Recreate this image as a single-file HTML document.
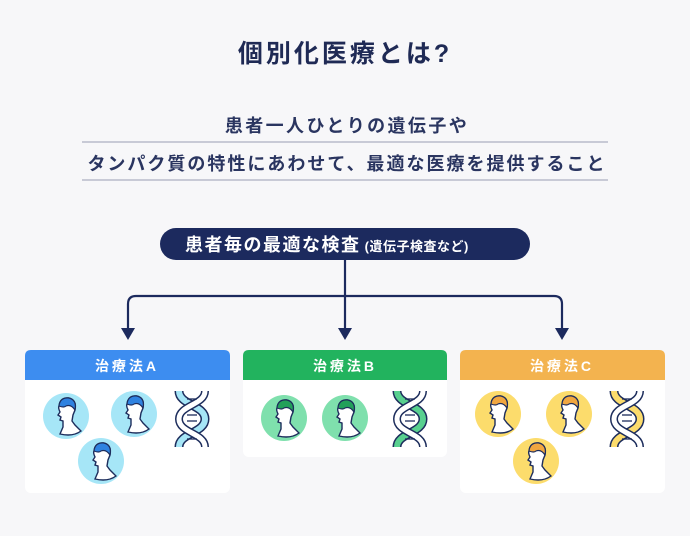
<!DOCTYPE html>
<html><head><meta charset="utf-8"><style>
body{margin:0;width:690px;height:536px;background:#f7f7f9;overflow:hidden;font-family:"Liberation Sans","Noto Sans CJK JP",sans-serif;}
svg{position:absolute;left:0;top:0}
</style></head><body>
<svg width="690" height="536" viewBox="0 0 690 536" xmlns="http://www.w3.org/2000/svg" font-family="Liberation Sans, Noto Sans CJK JP, sans-serif">
<defs>
<g id="p">
 <path d="M-8,-10 q1,-9 10,-8 q8,2 6,12 l-2,5 l-1,6 l3,4 l6,6 q-8,6 -21,3 l3,-7 l0,-6 l-3,-1 l1,-3 l-3,-2 l2,-3 q-2,-4 -1,-6z" fill="#fff" stroke="#1d2d5c" stroke-width="1.4"/>
 <path d="M-8,-10 q1,-9 10,-8 q8,2 6,12 q-4,-6 -9,-4 q-2,2 -7,0z" fill="var(--h)" stroke="#1d2d5c" stroke-width="1.2"/>
</g>
<g id="dna">
 <path d="M4,0 C4,14 30,14 30,28 C30,42 4,42 4,56" fill="none" stroke="#1d2d5c" stroke-width="9"/>
 <path d="M4,0 C4,14 30,14 30,28 C30,42 4,42 4,56" fill="none" stroke="var(--c)" stroke-width="6"/>
 <path d="M30,0 C30,14 4,14 4,28 C4,42 30,42 30,56" fill="none" stroke="#1d2d5c" stroke-width="8"/>
 <path d="M30,0 C30,14 4,14 4,28 C4,42 30,42 30,56" fill="none" stroke="#fff" stroke-width="5"/>
 <g stroke="#1d2d5c" stroke-width="1.3"><line x1="12" y1="8" x2="22" y2="8"/><line x1="12" y1="24" x2="22" y2="24"/><line x1="12" y1="30" x2="22" y2="30"/><line x1="12" y1="48" x2="22" y2="48"/></g>
</g>
</defs>
<text x="345" y="62" text-anchor="middle" font-size="25" font-weight="bold" fill="#1f2a55" letter-spacing="3">個別化医療とは?</text>
<text x="347" y="132" text-anchor="middle" font-size="18" font-weight="bold" fill="#2a3560" letter-spacing="2.4">患者一人ひとりの遺伝子や</text>
<line x1="82" y1="142" x2="608" y2="142" stroke="#b9bccb" stroke-width="1.5"/>
<text x="347" y="170" text-anchor="middle" font-size="18" font-weight="bold" fill="#2a3560" letter-spacing="2">タンパク質の特性にあわせて、最適な医療を提供すること</text>
<line x1="82" y1="180" x2="608" y2="180" stroke="#b9bccb" stroke-width="1.5"/>
<rect x="160" y="228" width="370" height="32" rx="16" fill="#1c2a5e"/>
<text x="185" y="251" font-size="18" font-weight="bold" fill="#fff" letter-spacing="1.5">患者毎の最適な検査<tspan font-size="13" letter-spacing="0.5"> (遺伝子検査など)</tspan></text>
<g stroke="#1c2a5e" stroke-width="2.2" fill="none">
 <line x1="345" y1="260" x2="345" y2="330"/>
 <path d="M128,330 V304 q0,-8 8,-8 H554 q8,0 8,8 V330"/>
</g>
<g fill="#1c2a5e">
 <polygon points="121,328 135,328 128,340"/><polygon points="338,328 352,328 345,340"/><polygon points="555,328 569,328 562,340"/>
</g>
<rect x="25" y="350" width="205" height="143" rx="6" fill="#fff"/>
<path d="M25,380 V356 q0,-6 6,-6 H224 q6,0 6,6 V380z" fill="#3d8df0"/>
<text x="127" y="371" text-anchor="middle" font-size="14" font-weight="bold" fill="#fff" letter-spacing="3">治療法A</text>
<rect x="243" y="350" width="204" height="107" rx="6" fill="#fff"/>
<path d="M243,380 V356 q0,-6 6,-6 H441 q6,0 6,6 V380z" fill="#22b35e"/>
<text x="345" y="371" text-anchor="middle" font-size="14" font-weight="bold" fill="#fff" letter-spacing="3">治療法B</text>
<rect x="460" y="350" width="205" height="143" rx="6" fill="#fff"/>
<path d="M460,380 V356 q0,-6 6,-6 H659 q6,0 6,6 V380z" fill="#f3b34f"/>
<text x="562" y="371" text-anchor="middle" font-size="14" font-weight="bold" fill="#fff" letter-spacing="3">治療法C</text>
<g style="--h:#2f82e0"><circle cx="66" cy="416" r="23" fill="#a6e6f7"/><use href="#p" x="67" y="416"/><circle cx="134" cy="414" r="23" fill="#a6e6f7"/><use href="#p" x="135" y="414"/><circle cx="101" cy="461" r="23" fill="#a6e6f7"/><use href="#p" x="102" y="461"/></g>
<use href="#dna" x="175" y="391" style="--c:#a6e6f7"/>
<g style="--h:#22a05a"><circle cx="284" cy="418" r="23" fill="#7fe0ad"/><use href="#p" x="285" y="418"/><circle cx="345" cy="418" r="23" fill="#7fe0ad"/><use href="#p" x="346" y="418"/></g>
<use href="#dna" x="393" y="391" style="--c:#58d08f"/>
<g style="--h:#f0a640"><circle cx="498" cy="414" r="23" fill="#fcdc6c"/><use href="#p" x="499" y="414"/><circle cx="569" cy="414" r="23" fill="#fcdc6c"/><use href="#p" x="570" y="414"/><circle cx="536" cy="461" r="23" fill="#fcdc6c"/><use href="#p" x="537" y="461"/></g>
<use href="#dna" x="610" y="391" style="--c:#fcdc6c"/>
</svg>
</body></html>
